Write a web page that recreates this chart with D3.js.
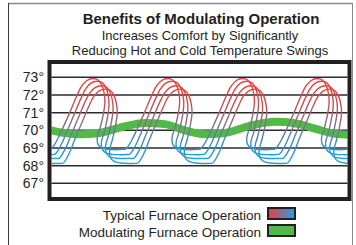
<!DOCTYPE html>
<html lang="en">
<meta charset="utf-8">
<title>Benefits of Modulating Operation</title>
<head>
<style>
  body { margin: 0; background: #fff; }
  text { font-family: "Liberation Sans", Arial, sans-serif; fill: #231f20; }
</style>
</head>
<body>
  <script src="https://cdn.jsdelivr.net/npm/d3@7"></script>
  <div id="chart"></div>
  <script>

    // ---- data ----
    var titleText = "Benefits of Modulating Operation";
    var subtitleLines = ["Increases Comfort by Significantly", "Reducing Hot and Cold Temperature Swings"];
    var tempTicks = [67, 68, 69, 70, 71, 72, 73];
    var legendLabels = ["Typical Furnace Operation", "Modulating Furnace Operation"];

    // start minute of each heating cycle (one cycle = 10 min)
    var cycleStarts = [-10, 0, 10, 20, 30, 40];

    // one cycle of each of the four typical-furnace traces: [minute in cycle, temp °F]
    var typical1 = [[0, 68.95], [0.55, 69.25], [1.0, 69.6], [1.5, 70.05], [2.5, 71.0], [3.4, 71.9], [4.1, 72.5], [4.8, 72.82], [5.6, 72.93], [6.3, 72.85], [6.8, 72.55], [7.15, 72.0], [7.2, 71.5], [6.95, 70.8], [6.55, 70.1], [6.2, 69.6], [6.3, 69.2], [6.8, 69.0], [7.6, 68.92], [8.7, 68.9], [9.6, 68.92]];
    var typical2 = [[0.55, 68.65], [1.1, 68.97], [1.55, 69.35], [2.05, 69.85], [3.05, 70.85], [3.95, 71.75], [4.65, 72.35], [5.35, 72.67], [6.15, 72.78], [6.85, 72.7], [7.35, 72.4], [7.7, 71.85], [7.75, 71.35], [7.5, 70.6], [7.1, 69.85], [6.75, 69.35], [6.85, 68.92], [7.35, 68.72], [8.15, 68.64], [9.25, 68.62], [10.15, 68.63]];
    var typical3 = [[1.1, 68.42], [1.65, 68.75], [2.1, 69.12], [2.6, 69.65], [3.6, 70.65], [4.5, 71.55], [5.2, 72.12], [5.9, 72.42], [6.7, 72.52], [7.4, 72.44], [7.9, 72.15], [8.25, 71.6], [8.3, 71.1], [8.05, 70.4], [7.65, 69.65], [7.3, 69.12], [7.4, 68.7], [7.9, 68.5], [8.7, 68.42], [9.8, 68.4], [10.7, 68.41]];
    var typical4 = [[1.65, 68.15], [2.2, 68.5], [2.65, 68.9], [3.15, 69.45], [4.15, 70.45], [5.05, 71.35], [5.75, 71.93], [6.45, 72.23], [7.25, 72.33], [7.95, 72.25], [8.45, 71.95], [8.8, 71.4], [8.85, 70.9], [8.6, 70.2], [8.2, 69.45], [7.85, 68.9], [7.95, 68.45], [8.45, 68.24], [9.25, 68.15], [10.35, 68.12], [11.25, 68.13]];

    // modulating furnace: [minute, temp °F]
    var modulating = [[0, 70.0], [1.9, 69.85], [3.9, 69.78], [6.5, 69.85], [9.2, 70.15], [12.6, 70.42], [15.2, 70.35], [17.9, 70.0], [20.6, 69.78], [23.3, 69.85], [26.6, 70.25], [30.0, 70.48], [32.6, 70.4], [35.3, 70.1], [38.0, 69.8], [40.0, 69.75]];

    // ---- layout ----
    var W = 356, H = 245;
    var box = { left: 49.5, top: 62, right: 349.5, bottom: 199 };

    var svg = d3.select("#chart").append("svg")
      .attr("width", W)
      .attr("height", H);

    var defs = svg.append("defs");

    var x = d3.scaleLinear().domain([0, 40]).range([51, 350]);
    var y = d3.scaleLinear().domain([67, 73]).range([183.3, 77.3]);

    // red (hot) to blue (cold) gradient for the typical traces
    var vGrad = defs.append("linearGradient")
      .attr("id", "hotcold")
      .attr("gradientUnits", "userSpaceOnUse")
      .attr("x1", 0).attr("x2", 0)
      .attr("y1", y(73)).attr("y2", y(68));
    [["0", "#e8403a"], ["0.2", "#e04444"], ["0.4", "#a8606a"], ["0.6", "#6e7896"], ["0.8", "#2a96d0"], ["1", "#1ea3de"]]
      .forEach(s => vGrad.append("stop").attr("offset", s[0]).attr("stop-color", s[1]));

    var hGrad = defs.append("linearGradient").attr("id", "swatchGrad");
    [["0", "#e2403c"], ["0.5", "#8a6f92"], ["1", "#1ea3de"]]
      .forEach(s => hGrad.append("stop").attr("offset", s[0]).attr("stop-color", s[1]));

    defs.append("clipPath").attr("id", "plotClip")
      .append("rect")
      .attr("x", box.left + 2).attr("y", box.top + 2)
      .attr("width", box.right - box.left - 4)
      .attr("height", box.bottom - box.top - 4);

    // outer frame
    svg.append("line").attr("x1", 8.5).attr("x2", 352.5).attr("y1", 3.5).attr("y2", 3.5)
      .attr("stroke", "#8a8a8a").attr("stroke-width", 1.5);
    svg.append("line").attr("x1", 8.5).attr("x2", 8.5).attr("y1", 3).attr("y2", H)
      .attr("stroke", "#3a3a3a").attr("stroke-width", 1);
    svg.append("line").attr("x1", 352.5).attr("x2", 352.5).attr("y1", 3).attr("y2", H)
      .attr("stroke", "#8a8a8a").attr("stroke-width", 1);

    // titles
    svg.append("text")
      .attr("x", 201).attr("y", 24)
      .attr("text-anchor", "middle")
      .style("font-size", "15px").style("font-weight", "bold")
      .text(titleText);
    svg.selectAll(".sub")
      .data(subtitleLines)
      .enter().append("text")
      .attr("class", "sub")
      .attr("x", 200)
      .attr("y", (d, i) => 39.5 + i * 15)
      .attr("text-anchor", "middle")
      .style("font-size", "13px")
      .text(d => d);

    // y labels
    svg.selectAll(".ylab")
      .data(tempTicks)
      .enter().append("text")
      .attr("class", "ylab")
      .attr("x", 44)
      .attr("y", d => y(d) + 5)
      .attr("text-anchor", "end")
      .style("font-size", "14px")
      .text(d => d + "°");

    var plot = svg.append("g").attr("clip-path", "url(#plotClip)");

    // grid lines
    plot.selectAll(".grid")
      .data(tempTicks)
      .enter().append("line")
      .attr("x1", box.left).attr("x2", box.right)
      .attr("y1", d => y(d)).attr("y2", d => y(d))
      .attr("stroke", "#2b2b2b")
      .attr("stroke-width", 1.5);

    // modulating band
    plot.append("path")
      .datum(modulating)
      .attr("fill", "none")
      .attr("stroke", "#52b848")
      .attr("stroke-width", 8)
      .attr("d", d3.line()
        .x(d => x(d[0]))
        .y(d => y(d[1]))
        .curve(d3.curveMonotoneX));

    // typical traces, repeated for each cycle
    var traceLine = d3.line()
      .x(d => x(d[0]))
      .y(d => y(d[1]))
      .curve(d3.curveCatmullRom.alpha(0.5));

    [typical1, typical2, typical3, typical4].forEach(trace => {
      var pts = [];
      cycleStarts.forEach(c => trace.forEach(p => pts.push([c + p[0], p[1]])));
      plot.append("path")
        .datum(pts)
        .attr("fill", "none")
        .attr("stroke", "url(#hotcold)")
        .attr("stroke-width", 1.4)
        .attr("d", traceLine);
    });

    // plot frame
    svg.append("rect")
      .attr("x", box.left).attr("y", box.top)
      .attr("width", box.right - box.left)
      .attr("height", box.bottom - box.top)
      .attr("fill", "none")
      .attr("stroke", "#231f20")
      .attr("stroke-width", 4);

    // legend
    var legend = svg.selectAll(".leg")
      .data(legendLabels)
      .enter().append("g")
      .attr("class", "leg")
      .attr("transform", (d, i) => "translate(0," + (i * 17) + ")");
    legend.append("text")
      .attr("x", 261)
      .attr("y", 219.5)
      .attr("text-anchor", "end")
      .style("font-size", "13.5px")
      .text(d => d);
    legend.append("rect")
      .attr("x", 268).attr("y", 208)
      .attr("width", 27).attr("height", 11)
      .attr("fill", (d, i) => i === 0 ? "url(#swatchGrad)" : "#52b848")
      .attr("stroke", "#231f20")
      .attr("stroke-width", 2);

  </script>
</body>
</html>
